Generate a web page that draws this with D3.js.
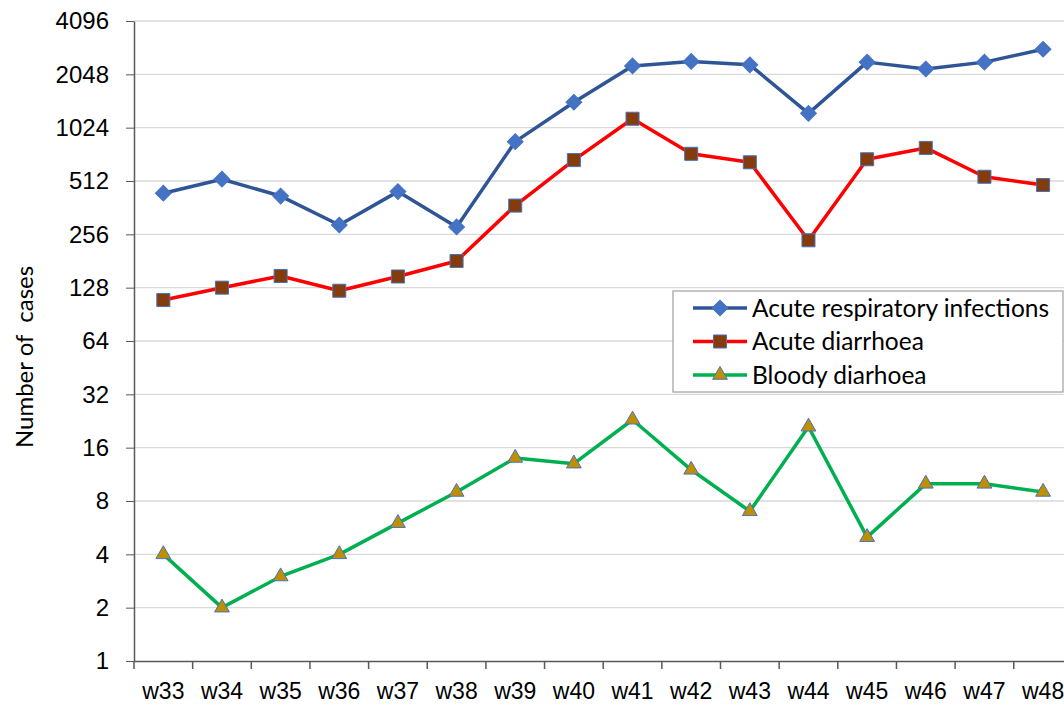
<!DOCTYPE html>
<html>
<head>
<meta charset="utf-8">
<script src="https://cdn.jsdelivr.net/npm/d3@7"></script>
<style>
    body { margin: 0; background: #fff; }
    svg { display: block; font-family: Lato, "Open Sans", sans-serif; }
    .axis text { fill: #000; }
    .axis path, .axis line { stroke: #595959; }
</style>
</head>
<body>
<div id="chart"></div>
<script>
// weeks on the x axis
const weeks = ['w33','w34','w35','w36','w37','w38','w39','w40','w41','w42','w43','w44','w45','w46','w47','w48'];

// weekly case counts
const respiratory = [437, 524, 421, 289, 446, 282, 854, 1425, 2285, 2423, 2317, 1234, 2400, 2195, 2400, 2837];
const diarrhoea   = [109, 128, 149, 123, 148, 181, 372, 672, 1150, 729, 653, 237, 679, 787, 541, 486];
const bloody      = [4, 2, 3, 4, 6, 9, 14, 13, 23, 12, 7, 21, 5, 10, 10, 9];

const yTicks = [1, 2, 4, 8, 16, 32, 64, 128, 256, 512, 1024, 2048, 4096];

const series = [
    {name: 'Acute respiratory infections', values: respiratory, line: '#2F5597', fill: '#4472C4', shape: 'diamond'},
    {name: 'Acute diarrhoea', values: diarrhoea, line: '#FF0000', fill: '#843C0C', shape: 'square'},
    {name: 'Bloody diarhoea', values: bloody, line: '#00B050', fill: '#BF8F00', shape: 'triangle'}
];

const containerWidth = 1064, containerHeight = 708;
const margin = {top: 21, left: 134};
const height = 640;
const bandW = 58.65;
const width = bandW * weeks.length;

const svg = d3.select('#chart').append('svg')
    .attr('width', containerWidth)
    .attr('height', containerHeight);

const chart = svg.append('g')
    .attr('transform', `translate(${margin.left},${margin.top})`);

const xScale = d3.scaleBand()
    .domain(weeks)
    .range([0, width]);

const yScale = d3.scaleLog()
    .base(2)
    .domain([1, 4096])
    .range([height, 0]);

// gridlines
chart.append('g')
    .selectAll('line')
    .data(yTicks.slice(1))
    .join('line')
    .attr('x1', 0)
    .attr('x2', width)
    .attr('y1', d => yScale(d))
    .attr('y2', d => yScale(d))
    .attr('stroke', '#D9D9D9')
    .attr('stroke-width', 1.3);

// y axis
const yAxisG = chart.append('g')
    .attr('class', 'axis y-axis')
    .call(d3.axisLeft(yScale).tickValues(yTicks).tickFormat(d3.format('d')).tickSize(8).tickPadding(17).tickSizeOuter(0));
yAxisG.selectAll('text').style('font-size', '24px');
yAxisG.select('.domain').attr('stroke-width', 1.5);

// x axis: labels at centres, ticks at band boundaries
const xAxisG = chart.append('g')
    .attr('class', 'axis x-axis')
    .attr('transform', `translate(0,${height})`)
    .call(d3.axisBottom(xScale).tickSize(0).tickPadding(22).tickSizeOuter(0));
xAxisG.selectAll('text').style('font-size', '23px');
xAxisG.select('.domain').attr('stroke-width', 1.5);
xAxisG.selectAll('.bound')
    .data(weeks)
    .join('line')
    .attr('class', 'bound')
    .attr('x1', d => xScale(d))
    .attr('x2', d => xScale(d))
    .attr('y1', 0)
    .attr('y2', 8)
    .attr('stroke', '#595959')
    .attr('stroke-width', 1.5);

// y axis title
svg.append('text')
    .attr('transform', 'translate(33,357) rotate(-90)')
    .attr('text-anchor', 'middle')
    .style('font-size', '24px')
    .style('white-space', 'pre')
    .text('Number of  cases');

const symbolFor = shape => {
    if (shape === 'diamond') return d3.symbol(d3.symbolSquare, 125)();
    if (shape === 'square') return d3.symbol(d3.symbolSquare, 170)();
    return d3.symbol(d3.symbolTriangle, 95)();
};

const line = d3.line()
    .x((d, i) => xScale(weeks[i]) + xScale.bandwidth() / 2)
    .y(d => yScale(d));

series.forEach(s => {
    const g = chart.append('g');
    g.append('path')
        .datum(s.values)
        .attr('fill', 'none')
        .attr('stroke', s.line)
        .attr('stroke-width', 3.5)
        .attr('stroke-linejoin', 'round')
        .attr('d', line);
    g.selectAll('path.mark')
        .data(s.values)
        .join('path')
        .attr('class', 'mark')
        .attr('d', symbolFor(s.shape))
        .attr('transform', (d, i) => `translate(${xScale(weeks[i]) + xScale.bandwidth() / 2},${yScale(d)})` + (s.shape === 'diamond' ? ' rotate(45)' : ''))
        .attr('fill', s.fill)
        .attr('stroke', '#4472C4')
        .attr('stroke-width', 1);
});

// legend
const legend = svg.append('g').attr('transform', 'translate(673,291)');
legend.append('rect')
    .attr('width', 390)
    .attr('height', 101)
    .attr('fill', '#fff')
    .attr('stroke', '#A6A6A6')
    .attr('stroke-width', 1.3);

const rows = legend.selectAll('g.row')
    .data(series)
    .join('g')
    .attr('class', 'row')
    .attr('transform', (d, i) => `translate(0,${17 + i * 33.5})`);
rows.append('line')
    .attr('x1', 20).attr('x2', 74)
    .attr('stroke', d => d.line)
    .attr('stroke-width', 3.5);
rows.append('path')
    .attr('d', d => symbolFor(d.shape))
    .attr('transform', d => 'translate(47,0)' + (d.shape === 'diamond' ? ' rotate(45)' : ''))
    .attr('fill', d => d.fill)
    .attr('stroke', '#4472C4')
    .attr('stroke-width', 1);
rows.append('text')
    .attr('x', 79)
    .attr('dy', '0.35em')
    .style('font-size', '24.5px')
    .text(d => d.name);
</script>
</body>
</html>
